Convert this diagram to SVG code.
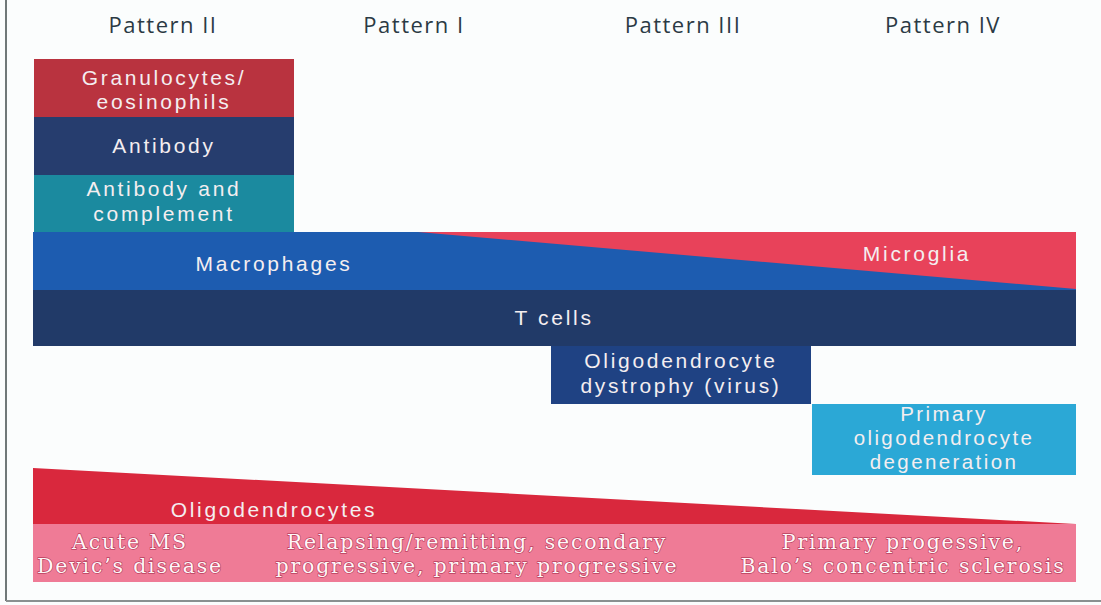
<svg xmlns="http://www.w3.org/2000/svg" width="1101" height="605" viewBox="0 0 1101 605">
<style>
text{font-family:"Liberation Sans",Arial,sans-serif;text-anchor:middle;}
.hdr{font-family:"Open Sans","Noto Sans",sans-serif;font-size:22px;fill:#2b3a44;letter-spacing:1.5px;}
.lbl{font-size:21px;fill:#f4eef0;letter-spacing:2.7px;}
.sm{font-size:20.5px;letter-spacing:2.4px;}
.pk{font-size:20.5px;fill:#fff6f8;stroke:#b9405e;stroke-width:1.3;paint-order:stroke;letter-spacing:1.8px;font-family:"DejaVu Serif","Liberation Serif",serif;}
</style>
<rect width="1101" height="605" fill="#fbfdfd"/>
<line x1="6" y1="0" x2="6" y2="601" stroke="#707878" stroke-width="2"/>
<line x1="6" y1="601" x2="1101" y2="601" stroke="#8a9090" stroke-width="2"/>
<g id="headers">
<text class="hdr" x="163" y="33">Pattern II</text>
<text class="hdr" x="414" y="33">Pattern I</text>
<text class="hdr" x="683" y="33">Pattern III</text>
<text class="hdr" x="943" y="33">Pattern IV</text>
</g>
<g id="granulocytes">
<rect x="34" y="59" width="260" height="58" fill="#b9333f"/>
<text class="lbl" x="164" y="85">Granulocytes/</text>
<text class="lbl" x="164" y="109">eosinophils</text>
</g>
<g id="antibody">
<rect x="34" y="117" width="260" height="58" fill="#263d6e"/>
<text class="lbl" x="164" y="153">Antibody</text>
</g>
<g id="antibody-complement">
<rect x="34" y="175" width="260" height="57" fill="#1b8a9f"/>
<text class="lbl" x="164" y="196">Antibody and</text>
<text class="lbl" x="164" y="221">complement</text>
</g>
<g id="macrophages-microglia">
<rect x="33" y="232" width="1043" height="58" fill="#1d5cb0"/>
<polygon points="418,232 1076,232 1076,289" fill="#e8425a"/>
<text class="lbl" x="274" y="271">Macrophages</text>
<text class="lbl" x="917" y="261">Microglia</text>
</g>
<g id="t-cells">
<rect x="33" y="290" width="1043" height="56" fill="#213a68"/>
<text class="lbl" x="554" y="325">T cells</text>
</g>
<g id="dystrophy">
<rect x="551" y="346" width="260" height="58" fill="#1f4283"/>
<text class="lbl" x="681" y="368">Oligodendrocyte</text>
<text class="lbl" x="681" y="393">dystrophy (virus)</text>
</g>
<g id="degeneration">
<rect x="812" y="404" width="264" height="71" fill="#2ba8d6"/>
<text class="lbl sm" x="944" y="421">Primary</text>
<text class="lbl sm" x="944" y="445">oligodendrocyte</text>
<text class="lbl sm" x="944" y="469">degeneration</text>
</g>
<g id="oligodendrocytes">
<polygon points="33,468 1076,524 33,524" fill="#d9283d"/>
<text class="lbl" x="274" y="517">Oligodendrocytes</text>
</g>
<g id="diseases">
<rect x="33" y="524" width="1043" height="58" fill="#ef7b96"/>
<text class="pk" x="130" y="549">Acute MS</text>
<text class="pk" x="130" y="573">Devic’s disease</text>
<text class="pk" x="477" y="549">Relapsing/remitting, secondary</text>
<text class="pk" x="477" y="573">progressive, primary progressive</text>
<text class="pk" x="903" y="549">Primary progessive,</text>
<text class="pk" x="903" y="573">Balo’s concentric sclerosis</text>
</g>
<g id="connectors"></g>
</svg>
